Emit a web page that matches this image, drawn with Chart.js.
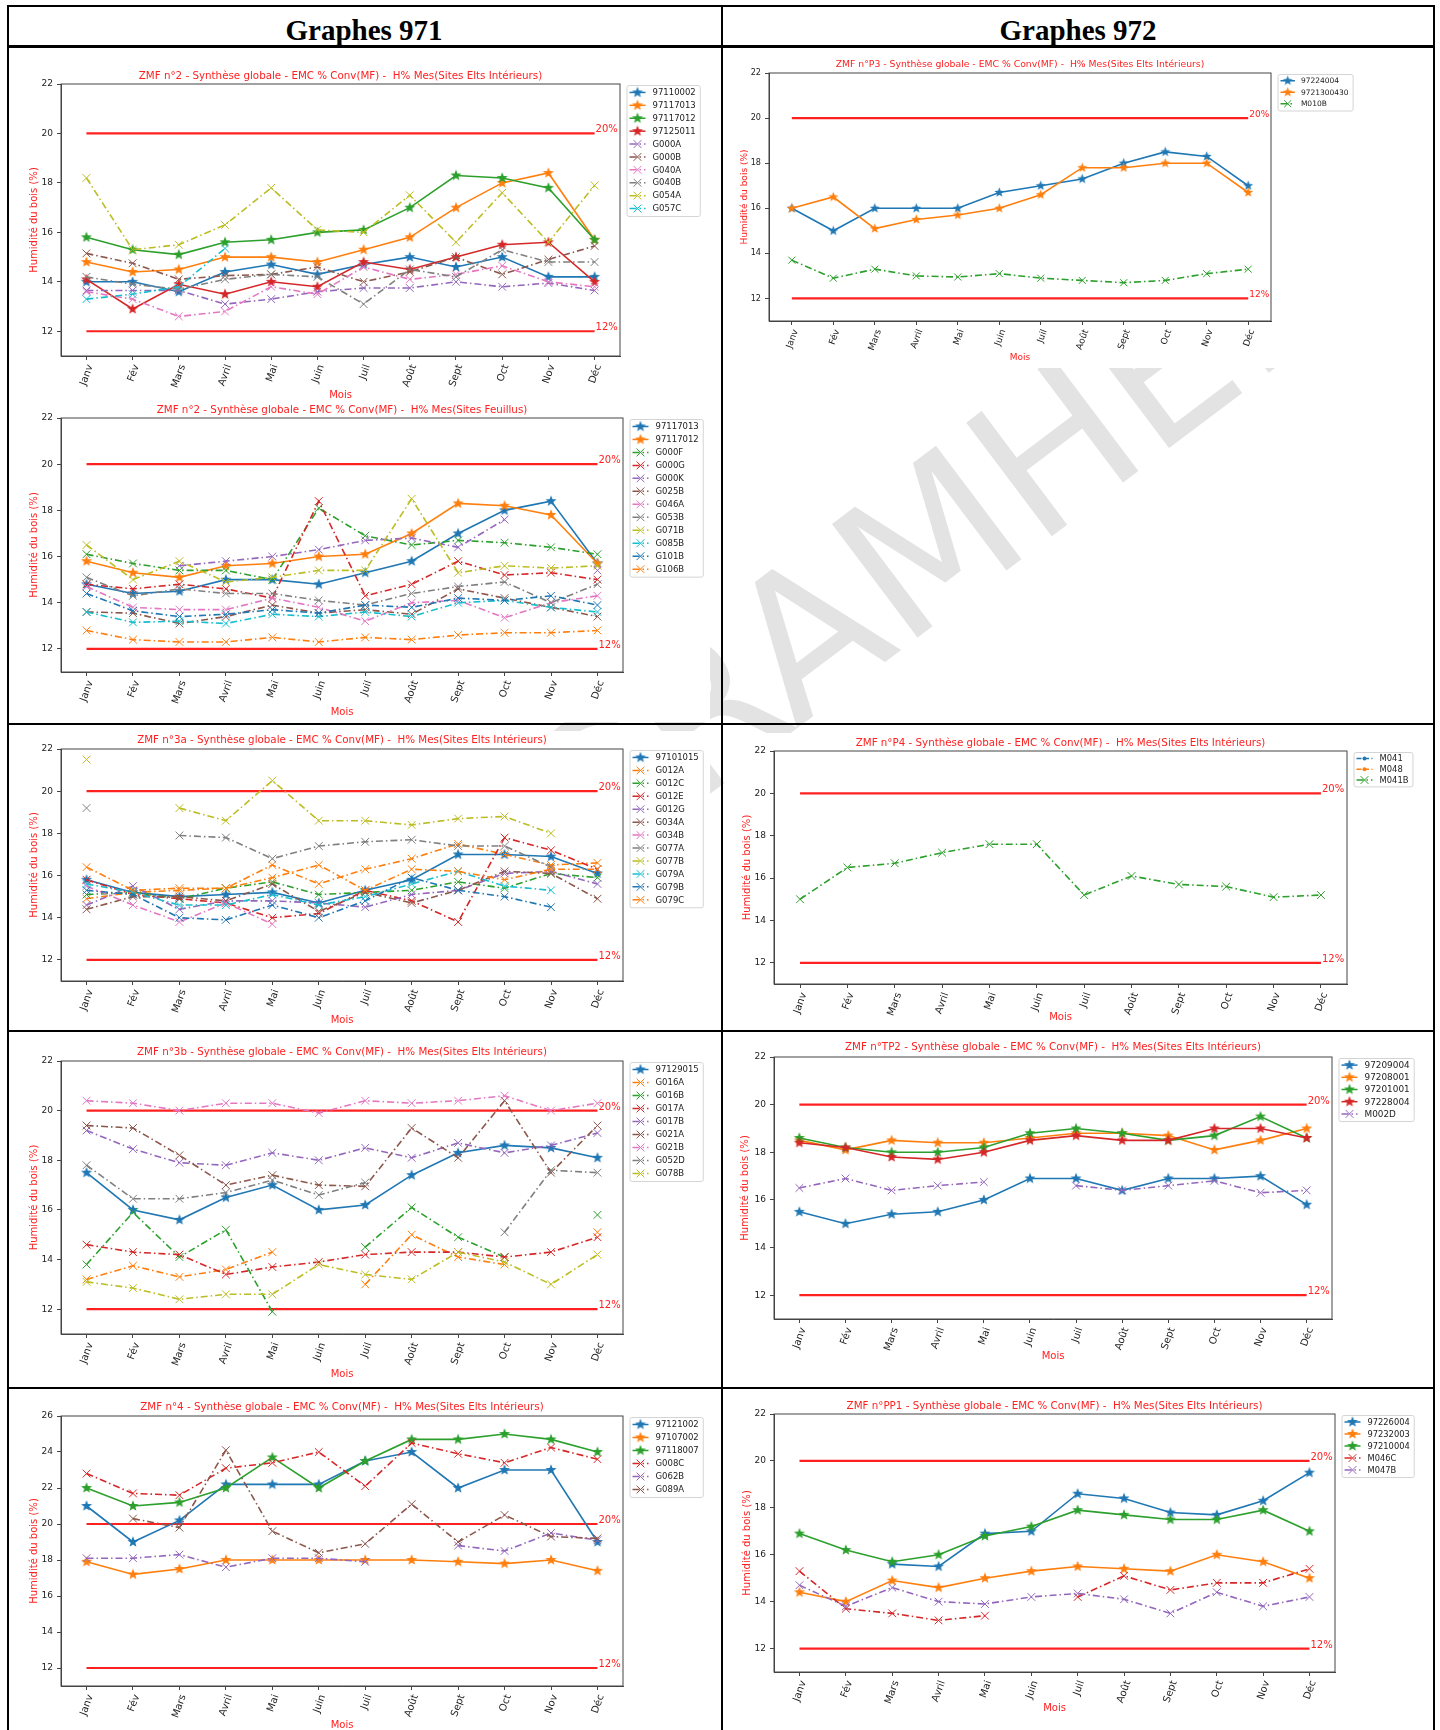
<!DOCTYPE html>
<html lang="fr">
<head>
<meta charset="utf-8">
<title>Graphes 971 / 972</title>
<script src="https://cdn.jsdelivr.net/npm/chart.js@4.4.1/dist/chart.umd.min.js"></script>
<style>
  html, body { margin: 0; padding: 0; background: #fff; }
  body { position: relative; width: 1440px; height: 1730px; overflow: hidden; }
  #watermark { position: absolute; left: 0; top: 0; z-index: 0; }
  canvas { position: absolute; z-index: 1; background: #fff; }
  .rule { position: absolute; background: #000; z-index: 2; }
  .head { position: absolute; top: 13px; width: 300px; text-align: center; z-index: 2;
          font: bold 29px 'Liberation Serif', 'Times New Roman', serif; line-height: 34px; color: #000; }
</style>
</head>
<body>
<svg id="watermark" width="1440" height="1730">
  <text x="585" y="888" transform="rotate(-37 585 888)" font-family="DejaVu Sans" font-size="195" fill="#e3e3e3">CRAMHE.</text>
</svg>

<div class="rule" style="left:7px;top:5px;width:1428px;height:2px"></div>
<div class="rule" style="left:7px;top:45px;width:1428px;height:2.5px"></div>
<div class="rule" style="left:7px;top:723px;width:1428px;height:2px"></div>
<div class="rule" style="left:7px;top:1030px;width:1428px;height:2px"></div>
<div class="rule" style="left:7px;top:1387px;width:1428px;height:2px"></div>
<div class="rule" style="left:7px;top:5px;width:2px;height:1725px"></div>
<div class="rule" style="left:721px;top:5px;width:2px;height:1725px"></div>
<div class="rule" style="left:1433px;top:5px;width:2px;height:1725px"></div>
<div class="head" style="left:214px">Graphes 971</div>
<div class="head" style="left:928px">Graphes 972</div>

<script>
// ---- data ----
const months = ['Janv', 'Fév', 'Mars', 'Avril', 'Mai', 'Juin', 'Juil', 'Août', 'Sept', 'Oct', 'Nov', 'Déc'];
const yTicks = [12, 14, 16, 18, 20, 22];
const yTicksZmf4 = [12, 14, 16, 18, 20, 22, 24, 26];
const refLevels = [20, 12];
const refLabels = ['20%', '12%'];

// ZMF n°2 - Sites Elts Intérieurs
const zmf2IntSites = ['97110002', '97117013', '97117012', '97125011', 'G000A', 'G000B', 'G040A', 'G040B', 'G054A', 'G057C'];
const zmf2IntValues = [
  [14.0, 14.0, 13.6, 14.4, 14.7, 14.3, 14.7, 15.0, 14.6, 15.0, 14.2, 14.2],
  [14.8, 14.4, 14.5, 15.0, 15.0, 14.8, 15.3, 15.8, 17.0, 18.0, 18.4, 15.7],
  [15.8, 15.3, 15.1, 15.6, 15.7, 16.0, 16.1, 17.0, 18.3, 18.2, 17.8, 15.7],
  [14.1, 12.9, 13.9, 13.5, 14.0, 13.8, 14.8, 14.5, 15.0, 15.5, 15.6, 14.0],
  [13.65, 13.65, 13.65, 13.1, 13.3, 13.6, 13.75, 13.75, 14.0, 13.8, 13.95, 13.65],
  [15.15, 14.75, 14.1, 14.25, 14.3, 14.6, 14.0, 14.4, 15.0, 14.3, 14.9, 15.45],
  [13.6, 13.3, 12.6, 12.8, 13.8, 13.5, 14.6, 14.1, 14.3, 14.65, 14.0, 13.8],
  [14.2, 13.9, 13.7, 14.1, 14.3, 14.2, 13.1, 14.5, 14.2, 15.3, 14.8, 14.8],
  [18.2, 15.3, 15.5, 16.3, 17.8, 16.1, 16.0, 17.5, 15.6, 17.6, 15.6, 17.9],
  [13.3, 13.5, 13.8, 15.35, null, null, null, null, null, null, null, null]
];

// ZMF n°2 - Sites Feuillus
const zmf2FeuSites = ['97117013', '97117012', 'G000F', 'G000G', 'G000K', 'G025B', 'G046A', 'G053B', 'G071B', 'G085B', 'G101B', 'G106B'];
const zmf2FeuValues = [
  [14.8, 14.4, 14.5, 15.0, 15.0, 14.8, 15.3, 15.8, 17.0, 18.0, 18.4, 15.7],
  [15.8, 15.3, 15.1, 15.6, 15.7, 16.0, 16.1, 17.0, 18.3, 18.2, 17.8, 15.7],
  [16.1, 15.7, 15.4, 15.4, 15.0, 18.1, 16.9, 16.5, 16.7, 16.6, 16.4, 16.1],
  [14.8, 14.6, 14.8, 14.6, 14.2, 18.4, 14.3, 14.8, 15.8, 15.2, 15.3, 15.0],
  [null, null, 15.6, 15.8, 16.0, 16.3, 16.7, 16.8, 16.4, 17.6, null, 15.4],
  [13.6, 13.55, 13.1, 13.4, 13.9, 13.55, 13.7, 13.5, 14.6, 14.2, 13.8, 13.4],
  [14.7, 13.8, 13.7, 13.7, 14.2, 13.8, 13.2, 14.0, 14.1, 13.35, 14.0, 14.3],
  [15.1, 14.3, 14.6, 14.4, 14.4, 14.1, 13.9, 14.4, 14.7, 14.9, 14.0, 14.8],
  [16.5, 15.0, 15.8, 14.9, 15.1, 15.4, 15.4, 18.5, 15.3, 15.6, 15.5, 15.6],
  [13.6, 13.15, 13.2, 13.1, 13.5, 13.4, 13.6, 13.4, 14.0, 14.1, 13.8, 13.6],
  [14.4, 13.65, 13.4, 13.5, 13.7, 13.55, 13.9, 13.8, 14.2, 14.1, 14.3, 13.9],
  [12.8, 12.4, 12.3, 12.3, 12.5, 12.3, 12.5, 12.4, 12.6, 12.7, 12.7, 12.8]
];

// ZMF n°P3
const zmfP3Sites = ['97224004', '9721300430', 'M010B'];
const zmfP3Values = [
  [16.0, 15.0, 16.0, 16.0, 16.0, 16.7, 17.0, 17.3, 18.0, 18.5, 18.3, 17.0],
  [16.0, 16.5, 15.1, 15.5, 15.7, 16.0, 16.6, 17.8, 17.8, 18.0, 18.0, 16.7],
  [13.7, 12.9, 13.3, 13.0, 12.95, 13.1, 12.9, 12.8, 12.7, 12.8, 13.1, 13.3]
];

// ZMF n°3a
const zmf3aSites = ['97101015', 'G012A', 'G012C', 'G012E', 'G012G', 'G034A', 'G034B', 'G077A', 'G077B', 'G079A', 'G079B', 'G079C'];
const zmf3aValues = [
  [15.8, 15.2, 15.0, 15.1, 15.2, 14.7, 15.3, 15.8, 17.0, 17.0, 16.9, 16.1],
  [14.9, 15.2, 15.3, 15.4, 16.5, 15.6, 16.3, 16.8, 17.5, 17.0, 16.5, 16.6],
  [15.1, 15.2, 14.9, 15.4, 15.7, 15.1, 15.2, 15.3, 15.7, 15.4, 16.1, 15.9],
  [15.8, 15.1, 14.9, 14.7, 14.0, 14.2, 15.3, 14.8, 13.8, 17.8, 17.2, 16.3],
  [14.6, 15.5, 14.4, 14.8, 14.8, 14.7, 14.5, 15.1, 15.3, 16.1, 16.2, 15.6],
  [14.4, 15.0, 15.0, 14.8, 15.6, 14.3, 15.2, 14.7, 15.3, 16.2, 16.1, 14.9],
  [15.5, 14.6, 13.8, 14.7, 13.7, null, null, null, null, null, null, null],
  [19.2, null, 17.9, 17.8, 16.8, 17.4, 17.6, 17.7, 17.4, 17.4, 16.4, null],
  [21.5, null, 19.2, 18.6, 20.5, 18.6, 18.6, 18.4, 18.7, 18.8, 18.0, null],
  [15.6, 15.2, 14.6, 14.6, 15.1, 14.6, 15.0, 15.6, 16.2, 15.5, 15.3, null],
  [15.3, 15.1, 14.0, 13.9, 14.6, 14.0, 14.8, 15.9, 15.3, 15.0, 14.5, null],
  [16.4, 15.3, 15.4, 15.4, 15.9, 16.5, 15.3, 16.3, 16.2, 15.8, 16.3, 16.3]
];

// ZMF n°P4
const zmfP4Sites = ['M041', 'M048', 'M041B'];
const zmfP4Values = [
  [null, null, null, null, null, null, null, null, null, null, null, null],
  [null, null, null, null, null, null, null, null, null, null, null, null],
  [15.0, 16.5, 16.7, 17.2, 17.6, 17.6, 15.2, 16.1, 15.7, 15.6, 15.1, 15.2]
];

// ZMF n°3b
const zmf3bSites = ['97129015', 'G016A', 'G016B', 'G017A', 'G017B', 'G021A', 'G021B', 'G052D', 'G078B'];
const zmf3bValues = [
  [17.5, 16.0, 15.6, 16.5, 17.0, 16.0, 16.2, 17.4, 18.3, 18.6, 18.5, 18.1],
  [13.2, 13.75, 13.3, 13.6, 14.3, null, 13.0, 15.0, 14.1, 13.8, null, 15.1],
  [13.8, 15.9, 14.1, 15.2, 11.9, null, 14.5, 16.1, 14.9, 14.1, null, 15.8],
  [14.6, 14.3, 14.2, 13.4, 13.7, 13.9, 14.2, 14.3, 14.3, 14.1, 14.3, 14.9],
  [19.2, 18.45, 17.9, 17.8, 18.3, 18.0, 18.5, 18.1, 18.7, 18.3, 18.6, 19.1],
  [19.4, 19.3, 18.2, 17.0, 17.4, 17.0, 16.95, 19.3, 18.1, 20.4, 17.5, 19.4],
  [20.4, 20.3, 20.0, 20.3, 20.3, 19.9, 20.4, 20.3, 20.4, 20.6, 20.0, 20.3],
  [17.8, 16.45, 16.45, 16.7, 17.2, 16.6, 17.1, null, null, 15.1, 17.6, 17.5],
  [13.1, 12.85, 12.4, 12.6, 12.6, 13.8, 13.4, 13.2, 14.3, 13.9, 13.0, 14.2]
];

// ZMF n°TP2
const zmfTP2Sites = ['97209004', '97208001', '97201001', '97228004', 'M002D'];
const zmfTP2Values = [
  [15.5, 15.0, 15.4, 15.5, 16.0, 16.9, 16.9, 16.4, 16.9, 16.9, 17.0, 15.8],
  [18.5, 18.1, 18.5, 18.4, 18.4, 18.6, 18.8, 18.8, 18.7, 18.1, 18.5, 19.0],
  [18.6, 18.2, 18.0, 18.0, 18.2, 18.8, 19.0, 18.8, 18.5, 18.7, 19.5, 18.6],
  [18.4, 18.2, 17.8, 17.7, 18.0, 18.5, 18.7, 18.5, 18.5, 19.0, 19.0, 18.6],
  [16.5, 16.9, 16.4, 16.6, 16.75, null, 16.6, 16.4, 16.6, 16.8, 16.3, 16.4]
];

// ZMF n°4
const zmf4Sites = ['97121002', '97107002', '97118007', 'G008C', 'G062B', 'G089A'];
const zmf4Values = [
  [21.0, 19.0, 20.2, 22.2, 22.2, 22.2, 23.5, 24.0, 22.0, 23.0, 23.0, 19.0],
  [17.9, 17.2, 17.5, 18.0, 18.0, 18.0, 18.0, 18.0, 17.9, 17.8, 18.0, 17.4],
  [22.0, 21.0, 21.2, 22.0, 23.7, 22.0, 23.5, 24.7, 24.7, 25.0, 24.7, 24.0],
  [22.8, 21.7, 21.6, 23.1, 23.4, 24.0, 22.1, 24.5, 23.9, 23.4, 24.25, 23.6],
  [18.1, 18.1, 18.3, 17.6, 18.1, 18.1, 17.9, null, 18.8, 18.5, 19.5, 19.1],
  [null, 20.3, 19.8, 24.1, 19.6, 18.4, 18.9, 21.1, 19.0, 20.5, 19.3, 19.2]
];

// ZMF n°PP1
const zmfPP1Sites = ['97226004', '97232003', '97210004', 'M046C', 'M047B'];
const zmfPP1Values = [
  [null, null, 15.6, 15.5, 16.9, 17.0, 18.6, 18.4, 17.8, 17.7, 18.3, 19.5],
  [14.4, 14.0, 14.9, 14.6, 15.0, 15.3, 15.5, 15.4, 15.3, 16.0, 15.7, 15.0],
  [16.9, 16.2, 15.7, 16.0, 16.8, 17.2, 17.9, 17.7, 17.5, 17.5, 17.9, 17.0],
  [15.3, 13.7, 13.5, 13.2, 13.4, null, 14.2, 15.1, 14.5, 14.8, 14.8, 15.4],
  [14.7, 13.8, 14.6, 14.0, 13.9, 14.2, 14.35, 14.1, 13.5, 14.4, 13.8, 14.2]
];

// ---- style ----
const FONT = "'DejaVu Sans', sans-serif";
const RED = '#ff2020';
const TAB10 = ['#1f77b4', '#ff7f0e', '#2ca02c', '#d62728', '#9467bd',
               '#8c564b', '#e377c2', '#7f7f7f', '#bcbd22', '#17becf'];
const dashedDotSites = ['M041', 'M048'];
const DASHDOT = [7, 3, 1.5, 3];

// filled 5-point star like matplotlib's '*'
function starMarker(color, r) {
  const c = document.createElement('canvas');
  const s = Math.ceil(r * 2 + 2);
  c.width = c.height = s;
  const g = c.getContext('2d');
  g.fillStyle = color;
  g.beginPath();
  for (let k = 0; k < 10; k++) {
    const rr = k % 2 ? r * 0.42 : r;
    const ang = -Math.PI / 2 + k * Math.PI / 5;
    g.lineTo(s / 2 + rr * Math.cos(ang), s / 2 + rr * Math.sin(ang));
  }
  g.closePath();
  g.fill();
  return c;
}

function drawLegendMarker(ctx, d, mx, my) {
  if (d.kind === 'star') {
    ctx.drawImage(d.pointStyle, mx - d.pointStyle.width / 2, my - d.pointStyle.height / 2);
  } else if (d.kind === 'x') {
    const r = d.pointRadius * 0.707;
    ctx.beginPath();
    ctx.moveTo(mx - r, my - r); ctx.lineTo(mx + r, my + r);
    ctx.moveTo(mx - r, my + r); ctx.lineTo(mx + r, my - r);
    ctx.lineWidth = 1;
    ctx.strokeStyle = d.borderColor;
    ctx.stroke();
  } else {
    ctx.beginPath();
    ctx.arc(mx, my, 2, 0, Math.PI * 2);
    ctx.fillStyle = d.borderColor;
    ctx.fill();
  }
}

// title, frame, 20%/12% labels and the matplotlib-like legend
const decoPlugin = {
  id: 'deco',
  afterDraw(chart, args, o) {
    const { ctx, chartArea: a, scales: { x, y } } = chart;
    ctx.save();
    ctx.strokeStyle = '#444';
    ctx.lineWidth = 1;
    ctx.strokeRect(a.left, a.top, a.right - a.left, a.bottom - a.top);

    ctx.fillStyle = RED;
    ctx.font = `${10 * o.fs}px ${FONT}`;
    ctx.textAlign = 'left';
    ctx.textBaseline = 'alphabetic';
    refLevels.forEach((v, k) => {
      ctx.fillText(refLabels[k], x.getPixelForValue(11) + 1, y.getPixelForValue(v) - 1);
    });

    ctx.font = `${10.3 * o.fs}px ${FONT}`;
    ctx.textAlign = 'center';
    ctx.textBaseline = 'middle';
    ctx.fillText(o.title, (a.left + a.right) / 2, o.titleY);

    // legend
    const ds = chart.data.datasets.filter(d => !d.isRef);
    ctx.font = `${o.legFont}px ${FONT}`;
    const textW = Math.max(...ds.map(d => ctx.measureText(d.label).width));
    const lx = a.right + 6.5, ly = a.top + 1;
    const w = 26 * o.fs + textW + 4;
    const h = o.legRow * ds.length + 2;
    ctx.beginPath();
    ctx.roundRect(lx + 0.5, ly + 0.5, w, h, 2);
    ctx.fillStyle = 'rgba(255,255,255,0.85)';
    ctx.fill();
    ctx.strokeStyle = '#d4d4d4';
    ctx.lineWidth = 1;
    ctx.stroke();
    ds.forEach((d, k) => {
      const cy = ly + o.legRow * (k + 0.5) + 1;
      const x0 = lx + 3, x1 = lx + 3 + 16 * o.fs;
      ctx.strokeStyle = d.borderColor;
      ctx.lineWidth = 1.5;
      ctx.setLineDash(d.borderDash);
      ctx.beginPath();
      ctx.moveTo(x0, cy); ctx.lineTo(x1, cy);
      ctx.stroke();
      ctx.setLineDash([]);
      drawLegendMarker(ctx, d, (x0 + x1) / 2, cy);
      ctx.fillStyle = '#222';
      ctx.textAlign = 'left';
      ctx.textBaseline = 'middle';
      ctx.fillText(d.label, lx + 26 * o.fs, cy + 0.5);
    });
    ctx.restore();
  }
};

function makeChart(cfg) {
  const [bx, by, bw, bh] = cfg.box;
  const [L, T, R, B] = cfg.plot;
  const fs = cfg.fs || 1;
  const cv = document.createElement('canvas');
  cv.width = bw;
  cv.height = bh;
  cv.style.left = bx + 'px';
  cv.style.top = by + 'px';
  document.body.appendChild(cv);

  const yW = L - (cfg.ylab - 6);
  const xH = cfg.mois + 6 - B;
  const padding = { left: cfg.ylab - 6 - bx, top: T - by, right: bx + bw - R, bottom: by + bh - (cfg.mois + 6) };
  const n = cfg.names.length;

  const datasets = cfg.names.map((name, i) => {
    const color = TAB10[i % 10];
    const kind = dashedDotSites.includes(name) ? 'dot' : (/^\d/.test(name) ? 'star' : 'x');
    return {
      label: name,
      kind,
      data: cfg.values[i].map((v, k) => ({ x: k, y: v })),
      borderColor: color,
      backgroundColor: color,
      borderWidth: 1.6,
      borderDash: kind === 'star' ? [] : kind === 'x' ? DASHDOT : [5, 2.5],
      pointStyle: kind === 'star' ? starMarker(color, 5.8 * fs) : kind === 'x' ? 'crossRot' : 'circle',
      pointRadius: kind === 'x' ? 5.5 * fs : kind === 'dot' ? 2 : 6,
      pointBorderWidth: 1,
      pointBorderColor: color,
      pointBackgroundColor: color,
      spanGaps: false,
      tension: 0,
      order: n - i
    };
  });
  refLevels.forEach(v => datasets.push({
    label: '', isRef: true,
    data: [{ x: 0, y: v }, { x: 11, y: v }],
    borderColor: RED, borderWidth: 2.2, pointRadius: 0, order: 1000
  }));

  const ticksArr = cfg.ticks;
  new Chart(cv, {
    type: 'line',
    data: { datasets },
    plugins: [decoPlugin],
    options: {
      responsive: false,
      animation: false,
      events: [],
      layout: { padding },
      plugins: {
        legend: { display: false },
        tooltip: { enabled: false },
        deco: { title: cfg.title, titleY: cfg.titleY - by, fs, legFont: cfg.legFont, legRow: cfg.legRow }
      },
      scales: {
        x: {
          type: 'linear',
          min: -0.55,
          max: 11.55,
          afterBuildTicks: s => { s.ticks = months.map((m, k) => ({ value: k })); },
          afterFit: s => { s.height = xH; },
          ticks: {
            callback: v => months[v],
            autoSkip: false,
            minRotation: 70,
            maxRotation: 70,
            padding: 3,
            labelOffset: 4,
            color: '#222',
            font: { family: FONT, size: 10 * fs }
          },
          grid: { drawOnChartArea: false, tickLength: 4, color: '#444' },
          border: { display: true, color: '#444' },
          title: { display: true, text: 'Mois', color: RED, padding: 0, font: { family: FONT, size: 10 * fs } }
        },
        y: {
          min: ticksArr[0] - 1,
          max: ticksArr[ticksArr.length - 1],
          afterBuildTicks: s => { s.ticks = ticksArr.map(v => ({ value: v })); },
          afterFit: s => { s.width = yW; },
          ticks: { padding: 4, color: '#222', font: { family: FONT, size: 9 * fs } },
          grid: { drawOnChartArea: false, tickLength: 4, color: '#444' },
          border: { display: true, color: '#444' },
          title: { display: true, text: 'Humidité du bois (%)', color: RED, padding: 0, font: { family: FONT, size: 10 * fs } }
        }
      }
    }
  });
}

const tail = ' - Synthèse globale - EMC % Conv(MF) -  H% Mes(Sites ';
const charts = [
  { title: 'ZMF n°2' + tail + 'Elts Intérieurs)', names: zmf2IntSites, values: zmf2IntValues, ticks: yTicks,
    box: [20, 60, 690, 342], plot: [61, 84, 620, 356], ylab: 34.5, mois: 395, titleY: 76, legFont: 8.5, legRow: 12.9 },
  { title: 'ZMF n°2' + tail + 'Feuillus)', names: zmf2FeuSites, values: zmf2FeuValues, ticks: yTicks,
    box: [20, 402, 690, 320], plot: [61, 418, 623, 672], ylab: 34.5, mois: 712, titleY: 410, legFont: 8.5, legRow: 12.97 },
  { title: 'ZMF n°P3' + tail + 'Elts Intérieurs)', names: zmfP3Sites, values: zmfP3Values, ticks: yTicks,
    box: [738, 50, 627, 318], plot: [769, 73, 1271, 321], ylab: 745.7, mois: 357, titleY: 65, fs: 0.9, legFont: 7.5, legRow: 11.5 },
  { title: 'ZMF n°3a' + tail + 'Elts Intérieurs)', names: zmf3aSites, values: zmf3aValues, ticks: yTicks,
    box: [20, 731, 690, 297], plot: [61, 749, 623, 981], ylab: 34.5, mois: 1020, titleY: 740, legFont: 8.5, legRow: 12.94 },
  { title: 'ZMF n°P4' + tail + 'Elts Intérieurs)', names: zmfP4Sites, values: zmfP4Values, ticks: yTicks,
    box: [738, 733, 687, 293], plot: [774, 751, 1347, 984], ylab: 747, mois: 1017.7, titleY: 743, legFont: 8.4, legRow: 10.8 },
  { title: 'ZMF n°3b' + tail + 'Elts Intérieurs)', names: zmf3bSites, values: zmf3bValues, ticks: yTicks,
    box: [20, 1040, 690, 342], plot: [61, 1061, 623, 1334], ylab: 34.5, mois: 1374, titleY: 1052, legFont: 8.5, legRow: 13 },
  { title: 'ZMF n°TP2' + tail + 'Elts Intérieurs)', names: zmfTP2Sites, values: zmfTP2Values, ticks: yTicks,
    box: [738, 1036, 687, 348], plot: [774, 1057, 1332, 1319], ylab: 745.5, mois: 1356.7, titleY: 1047.7, legFont: 8.9, legRow: 12.2 },
  { title: 'ZMF n°4' + tail + 'Elts Intérieurs)', names: zmf4Sites, values: zmf4Values, ticks: yTicksZmf4,
    box: [20, 1394, 690, 338], plot: [61, 1416, 623, 1686], ylab: 34.5, mois: 1725.7, titleY: 1407, legFont: 8.5, legRow: 13 },
  { title: 'ZMF n°PP1' + tail + 'Elts Intérieurs)', names: zmfPP1Sites, values: zmfPP1Values, ticks: yTicks,
    box: [738, 1394, 687, 338], plot: [774, 1414, 1335, 1672], ylab: 747, mois: 1708, titleY: 1406.7, legFont: 8.3, legRow: 12 }
];

charts.forEach(makeChart);
</script>
</body>
</html>
